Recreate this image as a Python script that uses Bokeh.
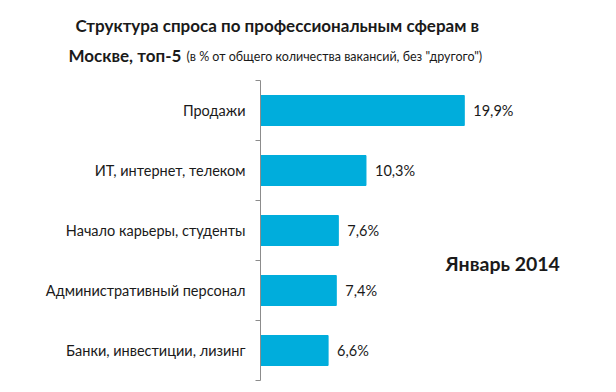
from bokeh.plotting import figure
from bokeh.models import Label, ColumnDataSource, Range1d
from bokeh.core.properties import value
from bokeh.embed import file_html
from bokeh.resources import INLINE

categories = ["Продажи", "ИТ, интернет, телеком", "Начало карьеры, студенты",
              "Административный персонал", "Банки, инвестиции, лизинг"]
values = [19.9, 10.3, 7.6, 7.4, 6.6]
title_line1 = "Структура спроса по профессиональным сферам в"
title_line2 = "Москве, топ-5"
subtitle = "(в % от общего количества вакансий, без \"другого\")"
period = "Январь 2014"

FONT = "Lato"
BAR = "#00ADDC"
AXIS = "#8C8C8C"
TXT = "#1a1a1a"

W, H = 600, 384
AX_X, AX_Y = 260, 380          # pixel position of axis origin
PXU_X, PXU_Y = 10.24, 60.0     # pixels per data unit

n = len(categories)
ypos = [n - 0.5 - i for i in range(n)]
labels = [f"{v:.1f}".replace(".", ",") + "%" for v in values]
src = ColumnDataSource(dict(y=ypos, v=values, lab=labels, cat=categories))

p = figure(width=W, height=H, output_backend="svg", toolbar_location=None,
           x_range=Range1d(-AX_X / PXU_X, (W - AX_X) / PXU_X),
           y_range=Range1d(-(H - AX_Y) / PXU_Y, AX_Y / PXU_Y),
           min_border=0)
p.outline_line_color = None
p.grid.visible = False
p.axis.visible = False
p.background_fill_color = "white"

# bars
p.hbar(y="y", right="v", left=0, height=0.5, color=BAR, source=src)
# value labels
p.text(x="v", y="y", text="lab", source=src, x_offset=9, text_baseline="middle",
       text_align="left", text_font_size="14.5px", text_color=TXT,
       text_font=value(FONT))
# category labels
p.text(x=0, y="y", text="cat", source=src, x_offset=-15, text_baseline="middle",
       text_align="right", text_font_size="14.5px", text_color=TXT,
       text_font=value(FONT))
# axis line and ticks at band boundaries
tick_len = 5 / PXU_X
bounds = list(range(n + 1))
p.segment(x0=[0], y0=[0], x1=[0], y1=[n], line_color=AXIS, line_width=1)
p.segment(x0=[-tick_len] * len(bounds), y0=bounds, x1=[0] * len(bounds), y1=bounds,
          line_color=AXIS, line_width=1)

def tx(px):
    return (px - AX_X) / PXU_X

def ty(py):
    return (AX_Y - py) / PXU_Y

p.add_layout(Label(x=tx(75), y=ty(25), text=title_line1, text_font=FONT, text_font_style="bold",
                   text_font_size="17px", text_baseline="middle", text_color=TXT))
p.add_layout(Label(x=tx(68), y=ty(55), text=title_line2, text_font=FONT, text_font_style="bold",
                   text_font_size="17px", text_baseline="middle", text_color=TXT))
p.add_layout(Label(x=tx(186), y=ty(56), text=subtitle, text_font=FONT,
                   text_font_size="12.5px", text_baseline="middle", text_color=TXT))
p.add_layout(Label(x=tx(445), y=ty(263), text=period, text_font=FONT, text_font_style="bold",
                   text_font_size="19.5px", text_baseline="middle", text_color=TXT))

open("out.html", "w").write(file_html(p, INLINE))
